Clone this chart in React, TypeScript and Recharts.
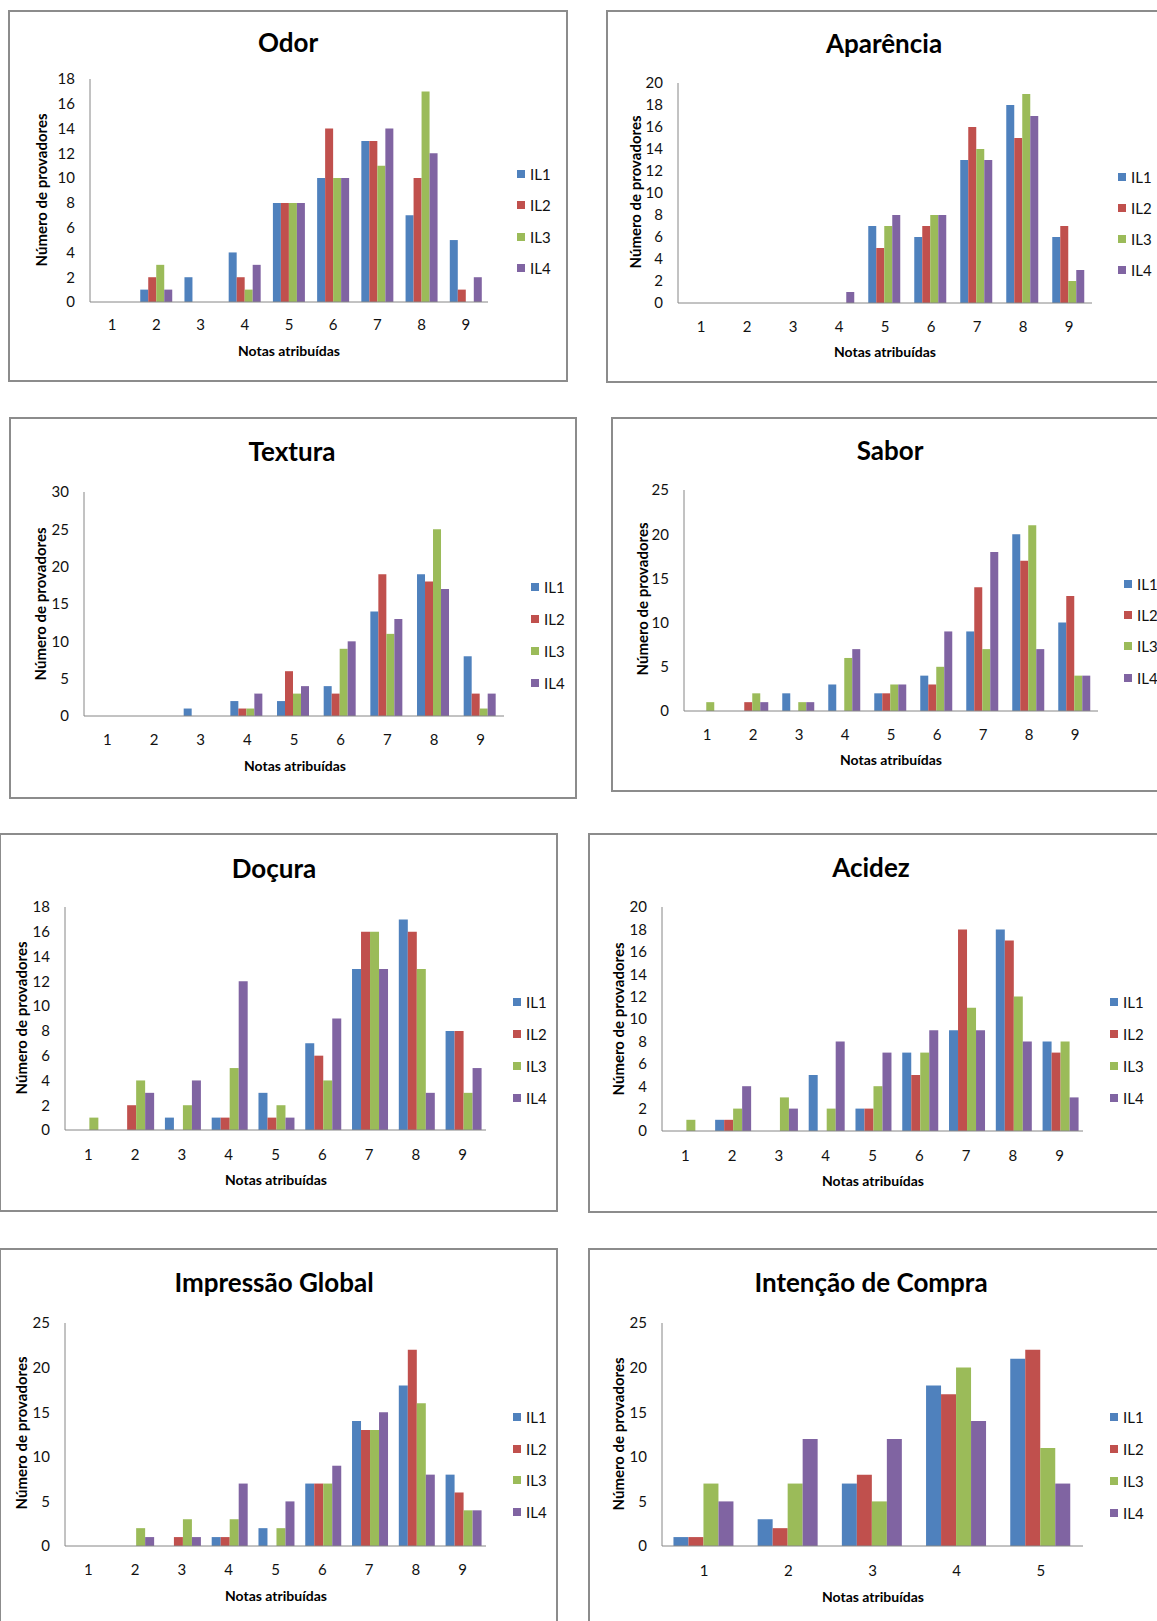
import React from 'react';
import { BarChart, Bar, XAxis, YAxis, Legend } from 'recharts';

// notas (categorias do eixo x)
const notas9 = ['1', '2', '3', '4', '5', '6', '7', '8', '9'];
const notas5 = ['1', '2', '3', '4', '5'];

const series = ['IL1', 'IL2', 'IL3', 'IL4'];
const colors = ['#4F81BD', '#C0504D', '#9BBB59', '#8064A2'];

// Odor
const odorIL1 = [0, 1, 2, 4, 8, 10, 13, 7, 5];
const odorIL2 = [0, 2, 0, 2, 8, 14, 13, 10, 1];
const odorIL3 = [0, 3, 0, 1, 8, 10, 11, 17, 0];
const odorIL4 = [0, 1, 0, 3, 8, 10, 14, 12, 2];

// Aparência
const aparIL1 = [0, 0, 0, 0, 7, 6, 13, 18, 6];
const aparIL2 = [0, 0, 0, 0, 5, 7, 16, 15, 7];
const aparIL3 = [0, 0, 0, 0, 7, 8, 14, 19, 2];
const aparIL4 = [0, 0, 0, 1, 8, 8, 13, 17, 3];

// Textura
const textIL1 = [0, 0, 1, 2, 2, 4, 14, 19, 8];
const textIL2 = [0, 0, 0, 1, 6, 3, 19, 18, 3];
const textIL3 = [0, 0, 0, 1, 3, 9, 11, 25, 1];
const textIL4 = [0, 0, 0, 3, 4, 10, 13, 17, 3];

// Sabor
const saborIL1 = [0, 0, 2, 3, 2, 4, 9, 20, 10];
const saborIL2 = [0, 1, 0, 0, 2, 3, 14, 17, 13];
const saborIL3 = [1, 2, 1, 6, 3, 5, 7, 21, 4];
const saborIL4 = [0, 1, 1, 7, 3, 9, 18, 7, 4];

// Doçura
const docIL1 = [0, 0, 1, 1, 3, 7, 13, 17, 8];
const docIL2 = [0, 2, 0, 1, 1, 6, 16, 16, 8];
const docIL3 = [1, 4, 2, 5, 2, 4, 16, 13, 3];
const docIL4 = [0, 3, 4, 12, 1, 9, 13, 3, 5];

// Acidez
const acidIL1 = [0, 1, 0, 5, 2, 7, 9, 18, 8];
const acidIL2 = [0, 1, 0, 0, 2, 5, 18, 17, 7];
const acidIL3 = [1, 2, 3, 2, 4, 7, 11, 12, 8];
const acidIL4 = [0, 4, 2, 8, 7, 9, 9, 8, 3];

// Impressão Global
const globIL1 = [0, 0, 0, 1, 2, 7, 14, 18, 8];
const globIL2 = [0, 0, 1, 1, 0, 7, 13, 22, 6];
const globIL3 = [0, 2, 3, 3, 2, 7, 13, 16, 4];
const globIL4 = [0, 1, 1, 7, 5, 9, 15, 8, 4];

// Intenção de Compra
const compIL1 = [1, 3, 7, 18, 21];
const compIL2 = [1, 2, 8, 17, 22];
const compIL3 = [7, 7, 5, 20, 11];
const compIL4 = [5, 12, 12, 14, 7];

// marcas do eixo y
const ticks18 = [0, 2, 4, 6, 8, 10, 12, 14, 16, 18];
const ticks20 = [0, 2, 4, 6, 8, 10, 12, 14, 16, 18, 20];
const ticks25 = [0, 5, 10, 15, 20, 25];
const ticks30 = [0, 5, 10, 15, 20, 25, 30];

const FONT = 'Lato, "Open Sans", sans-serif';
const Y_W = 40;
const X_H = 30;

type Geom = {
  box: [number, number, number, number]; // left, top, right, bottom
  title: [number, number];
  axisX: number;
  topY: number;
  zeroY: number;
  rightX: number;
  tickY: number;
  xTitle: [number, number];
  yTitle: [number, number];
  legend: [number, number, number]; // x, first center y, step
};

function Panel({ title, cats, values, yTicks, g }: { title: string; cats: string[]; values: number[][]; yTicks: number[]; g: Geom }) {
  const [bl, bt, br, bb] = g.box;
  const W = br - bl;
  const H = bb - bt;
  const rows = cats.map((c, i) => {
    const row: Record<string, string | number> = { nota: c };
    series.forEach((s, k) => { row[s] = values[k][i]; });
    return row;
  });
  const margin = {
    top: g.topY - bt,
    left: g.axisX - bl - Y_W,
    right: br - g.rightX,
    bottom: bb - g.zeroY - X_H,
  };
  const step = g.legend[2];
  const textStyle = { position: 'absolute' as const, fontFamily: FONT, color: '#000', whiteSpace: 'nowrap' as const, lineHeight: 1 };

  return (
    <>
      <div style={{ position: 'absolute', left: bl, top: bt, width: W, height: H, border: '2px solid #8c8c8c', boxSizing: 'border-box', background: '#fff' }} />
      <div style={{ position: 'absolute', left: bl, top: bt }}>
        <BarChart width={W} height={H} data={rows} margin={margin} barCategoryGap="13.6%" barGap={0}>
          <XAxis
            dataKey="nota"
            type="category"
            height={X_H}
            interval={0}
            axisLine={{ stroke: '#868686' }}
            tickLine={false}
            tickSize={0}
            tickMargin={g.tickY - g.zeroY - 5}
            tick={{ fill: '#111', fontSize: 15, fontFamily: FONT }}
          />
          <YAxis
            type="number"
            domain={[0, yTicks[yTicks.length - 1]]}
            ticks={yTicks}
            interval={0}
            width={Y_W}
            axisLine={{ stroke: '#868686' }}
            tickLine={false}
            tickSize={0}
            tickMargin={15}
            tick={{ fill: '#111', fontSize: 15, fontFamily: FONT }}
          />
          <Legend
            layout="vertical"
            align="center"
            verticalAlign="middle"
            wrapperStyle={{ left: g.legend[0] - bl, top: g.legend[1] - bt - step / 2, width: 'auto' }}
            content={(props: any) => (
              <div>
                {(props.payload || []).map((p: any) => (
                  <div key={p.value} style={{ height: step, display: 'flex', alignItems: 'center', fontFamily: FONT, fontSize: 15, color: '#111' }}>
                    <span style={{ display: 'inline-block', width: 8, height: 8, background: p.color, marginRight: 5 }} />
                    {p.value}
                  </div>
                ))}
              </div>
            )}
          />
          {series.map((s, k) => (
            <Bar key={s} dataKey={s} name={s} fill={colors[k]} isAnimationActive={false} />
          ))}
        </BarChart>
      </div>
      <div style={{ ...textStyle, left: g.title[0], top: g.title[1], transform: 'translate(-50%, -50%)', fontSize: 26, fontWeight: 700 }}>{title}</div>
      <div style={{ ...textStyle, left: g.xTitle[0], top: g.xTitle[1], transform: 'translate(-50%, -50%)', fontSize: 14, fontWeight: 700 }}>Notas atribuídas</div>
      <div style={{ ...textStyle, left: g.yTitle[0], top: g.yTitle[1], transform: 'translate(-50%, -50%) rotate(-90deg)', fontSize: 15, fontWeight: 700 }}>Número de provadores</div>
    </>
  );
}

const gOdor: Geom = { box: [8, 10, 568, 382], title: [288, 42], axisX: 90, topY: 79, zeroY: 302, rightX: 488, tickY: 324, xTitle: [289, 351], yTitle: [41, 190], legend: [517, 174, 31.3] };
const gApar: Geom = { box: [606, 10, 1190, 383], title: [884, 43], axisX: 678, topY: 83, zeroY: 303, rightX: 1092, tickY: 326, xTitle: [885, 352], yTitle: [635, 192], legend: [1118, 177, 31] };
const gText: Geom = { box: [9, 417, 577, 799], title: [292, 451], axisX: 84, topY: 492, zeroY: 716, rightX: 504, tickY: 739, xTitle: [295, 766], yTitle: [40, 604], legend: [531, 587, 31.9] };
const gSabor: Geom = { box: [611, 417, 1190, 792], title: [890, 450], axisX: 684, topY: 490, zeroY: 711, rightX: 1098, tickY: 734, xTitle: [891, 760], yTitle: [642, 599], legend: [1124, 584, 31.2] };
const gDoc: Geom = { box: [-1, 833, 558, 1212], title: [274, 868], axisX: 65, topY: 907, zeroY: 1130, rightX: 486, tickY: 1154, xTitle: [276, 1180], yTitle: [21, 1018], legend: [513, 1002, 31.9] };
const gAcid: Geom = { box: [588, 833, 1190, 1213], title: [871, 867], axisX: 662, topY: 907, zeroY: 1131, rightX: 1083, tickY: 1155, xTitle: [873, 1181], yTitle: [618, 1019], legend: [1110, 1002, 31.9] };
const gGlob: Geom = { box: [-1, 1248, 558, 1640], title: [274, 1282], axisX: 65, topY: 1323, zeroY: 1546, rightX: 486, tickY: 1569, xTitle: [276, 1596], yTitle: [21, 1433], legend: [513, 1417, 31.7] };
const gComp: Geom = { box: [588, 1248, 1190, 1640], title: [871, 1282], axisX: 662, topY: 1323, zeroY: 1546, rightX: 1083, tickY: 1570, xTitle: [873, 1597], yTitle: [618, 1434], legend: [1110, 1417, 31.9] };

export default function App() {
  return (
    <div style={{ position: 'absolute', left: 0, top: 0, width: 1157, height: 1621, overflow: 'hidden', background: '#fff' }}>
      <Panel title="Odor" cats={notas9} values={[odorIL1, odorIL2, odorIL3, odorIL4]} yTicks={ticks18} g={gOdor} />
      <Panel title="Aparência" cats={notas9} values={[aparIL1, aparIL2, aparIL3, aparIL4]} yTicks={ticks20} g={gApar} />
      <Panel title="Textura" cats={notas9} values={[textIL1, textIL2, textIL3, textIL4]} yTicks={ticks30} g={gText} />
      <Panel title="Sabor" cats={notas9} values={[saborIL1, saborIL2, saborIL3, saborIL4]} yTicks={ticks25} g={gSabor} />
      <Panel title="Doçura" cats={notas9} values={[docIL1, docIL2, docIL3, docIL4]} yTicks={ticks18} g={gDoc} />
      <Panel title="Acidez" cats={notas9} values={[acidIL1, acidIL2, acidIL3, acidIL4]} yTicks={ticks20} g={gAcid} />
      <Panel title="Impressão Global" cats={notas9} values={[globIL1, globIL2, globIL3, globIL4]} yTicks={ticks25} g={gGlob} />
      <Panel title="Intenção de Compra" cats={notas5} values={[compIL1, compIL2, compIL3, compIL4]} yTicks={ticks25} g={gComp} />
    </div>
  );
}
